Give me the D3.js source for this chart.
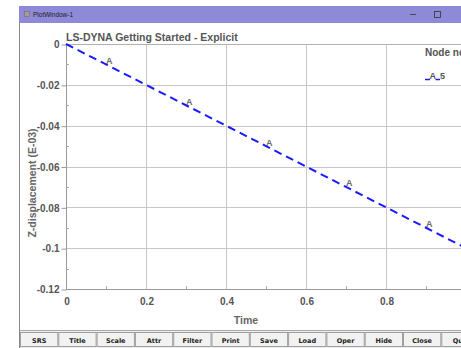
<!DOCTYPE html>
<html><head><meta charset="utf-8">
<script src="https://cdn.jsdelivr.net/npm/d3@7"></script>
<style>
html,body{margin:0;padding:0;background:#fff;overflow:hidden}
svg{display:block}
</style></head>
<body>
<script>
const time = [0, 0.1, 0.2, 0.3, 0.4, 0.5, 0.6, 0.7, 0.8, 0.9, 1.0];
const zDisp = [0, -0.01, -0.02, -0.03, -0.04, -0.05, -0.06, -0.07, -0.08, -0.09, -0.1];
const markerTimes = [0.1, 0.3, 0.5, 0.7, 0.9];
const markerValues = [-0.01, -0.03, -0.05, -0.07, -0.09];
const xTicks = [0, 0.2, 0.4, 0.6, 0.8];
const yTicks = [0, -0.02, -0.04, -0.06, -0.08, -0.1, -0.12];
const buttons = ["SRS","Title","Scale","Attr","Filter","Print","Save","Load","Oper","Hide","Close","Quit"];
const chartTitle = "LS-DYNA Getting Started - Explicit";
const windowTitle = "PlotWindow-1";
const legendTitle = "Node no.";
const legendLabel = "5";

const W = 461, H = 348;
const svg = d3.select("body").append("svg").attr("width", W).attr("height", H);
const FONT = "'Liberation Sans', Arial, sans-serif";
const fmt = d => String(+d.toFixed(2));

// window frame
svg.append("rect").attr("x", 19).attr("y", 6).attr("width", W - 19).attr("height", 17).attr("fill", "#8e8ad8");
svg.append("rect").attr("x", 24.5).attr("y", 11.5).attr("width", 5).attr("height", 5).attr("fill", "#a89c90").attr("stroke", "#6a6070").attr("stroke-width", 0.5);
svg.append("text").attr("x", 33).attr("y", 16.5).attr("font-family", FONT).attr("font-size", 6.5).attr("fill", "#222").text(windowTitle);
svg.append("line").attr("x1", 410).attr("x2", 416).attr("y1", 14.5).attr("y2", 14.5).attr("stroke", "#333").attr("stroke-width", 0.8);
svg.append("rect").attr("x", 434.5).attr("y", 11.5).attr("width", 6).attr("height", 6).attr("fill", "none").attr("stroke", "#333").attr("stroke-width", 0.8);
svg.append("line").attr("x1", 19.5).attr("x2", 19.5).attr("y1", 23).attr("y2", H).attr("stroke", "#888").attr("stroke-width", 1);

// scales
const x = d3.scaleLinear().domain([0, 1]).range([66, 466]);
const y = d3.scaleLinear().domain([0, -0.12]).range([44, 289]);

// grid
const g = svg.append("g");
g.selectAll(".vg").data(xTicks.concat([1.0]).filter(d => d > 0)).join("line")
  .attr("x1", d => Math.round(x(d)) + 0.5).attr("x2", d => Math.round(x(d)) + 0.5)
  .attr("y1", 44).attr("y2", 289).attr("stroke", "#c8c8c8").attr("stroke-width", 1);
g.selectAll(".hg").data(yTicks.filter(d => d < 0 && d > -0.12)).join("line")
  .attr("x1", 66).attr("x2", W)
  .attr("y1", d => Math.round(y(d)) + 0.5).attr("y2", d => Math.round(y(d)) + 0.5)
  .attr("stroke", "#c8c8c8").attr("stroke-width", 1);
// frame
g.append("line").attr("x1", 66).attr("x2", W).attr("y1", 44.5).attr("y2", 44.5).attr("stroke", "#b0b0b0");
g.append("line").attr("x1", 66).attr("x2", W).attr("y1", 289.5).attr("y2", 289.5).attr("stroke", "#999");
g.append("line").attr("x1", 66.5).attr("x2", 66.5).attr("y1", 44).attr("y2", 289).attr("stroke", "#999");

// axes (ticks + labels)
const yAxis = d3.axisLeft(y).tickValues(yTicks).tickSize(5).tickPadding(2).tickFormat(fmt);
const ya = svg.append("g").attr("transform", "translate(66.5,0.5)").call(yAxis);
ya.select(".domain").remove();
ya.selectAll("line").attr("stroke", "#999");
ya.selectAll("text").attr("font-family", FONT).attr("font-size", 10).attr("font-weight", "bold").attr("fill", "#555");

const xAxis = d3.axisBottom(x).tickValues(xTicks).tickSize(0).tickPadding(9).tickFormat(fmt);
const xa = svg.append("g").attr("transform", "translate(0.5,289)").call(xAxis);
xa.select(".domain").remove();
xa.selectAll("text").attr("font-family", FONT).attr("font-size", 10).attr("font-weight", "bold").attr("fill", "#555");

// minor ticks inside
const minorX = [0.1, 0.3, 0.5, 0.7, 0.9];
svg.selectAll(".mx").data(minorX).join("line")
  .attr("x1", d => Math.round(x(d)) + 0.5).attr("x2", d => Math.round(x(d)) + 0.5)
  .attr("y1", 289).attr("y2", 286).attr("stroke", "#aaa");
const minorY = [-0.01, -0.03, -0.05, -0.07, -0.09, -0.11];
svg.selectAll(".my").data(minorY).join("line")
  .attr("x1", 66).attr("x2", 69)
  .attr("y1", d => Math.round(y(d)) + 0.5).attr("y2", d => Math.round(y(d)) + 0.5).attr("stroke", "#aaa");

// titles
svg.append("text").attr("x", 66).attr("y", 41).attr("font-family", FONT).attr("font-size", 10.5).attr("font-weight", "bold").attr("fill", "#555").text(chartTitle);
svg.append("text").attr("x", 246).attr("y", 324).attr("text-anchor", "middle").attr("font-family", FONT).attr("font-size", 10.5).attr("font-weight", "bold").attr("fill", "#666").text("Time");
svg.append("text").attr("transform", "translate(36,183) rotate(-90)").attr("text-anchor", "middle").attr("font-family", FONT).attr("font-size", 10.5).attr("font-weight", "bold").attr("fill", "#666").text("Z-displacement (E-03)");

// data line
const line = d3.line().x((d, i) => x(time[i])).y(d => y(d));
svg.append("path").datum(zDisp).attr("d", line).attr("fill", "none")
  .attr("stroke", "#1a1aff").attr("stroke-width", 2).attr("stroke-dasharray", "8,5");

// markers
svg.selectAll(".mk").data(markerTimes).join("text")
  .attr("x", d => x(d)).attr("y", (d, i) => y(markerValues[i]) - 0.5)
  .attr("font-family", FONT).attr("font-size", 9).attr("font-weight", "bold").attr("fill", "#6a6a6a").text("A");

// legend
svg.append("text").attr("x", 425).attr("y", 56).attr("font-family", FONT).attr("font-size", 10).attr("font-weight", "bold").attr("fill", "#555").text(legendTitle);
svg.append("line").attr("x1", 425).attr("x2", 430).attr("y1", 79.5).attr("y2", 79.5).attr("stroke", "#1a1aff").attr("stroke-width", 1.5);
svg.append("text").attr("x", 429.5).attr("y", 79).attr("font-family", FONT).attr("font-size", 9).attr("font-weight", "bold").attr("fill", "#555").text("A");
svg.append("line").attr("x1", 435.5).attr("x2", 440).attr("y1", 79.5).attr("y2", 79.5).attr("stroke", "#1a1aff").attr("stroke-width", 1.5);
svg.append("text").attr("x", 440).attr("y", 79).attr("font-family", FONT).attr("font-size", 9).attr("font-weight", "bold").attr("fill", "#555").text(legendLabel);

// button bar
const bx = d3.scaleBand().domain(buttons).range([20, 20 + 38.3 * buttons.length]).padding(0);
const bg = svg.append("g");
bg.append("line").attr("x1", 20).attr("x2", W).attr("y1", 330.5).attr("y2", 330.5).attr("stroke", "#aaa");
bg.append("rect").attr("x", 20).attr("y", 331).attr("width", W - 20).attr("height", 17).attr("fill", "#ececec");
bg.selectAll("rect.b").data(buttons).join("rect").attr("class", "b")
  .attr("x", d => bx(d) + 0.5).attr("y", 332.5).attr("width", bx.bandwidth() - 1).attr("height", 14)
  .attr("fill", "#f2f2f2").attr("stroke", "#a0a0a0").attr("stroke-width", 1);
bg.selectAll("text.b").data(buttons).join("text").attr("class", "b")
  .attr("x", d => bx(d) + bx.bandwidth() / 2).attr("y", 342.5).attr("text-anchor", "middle")
  .attr("font-family", "'DejaVu Sans', sans-serif").attr("font-size", 6.5).attr("font-weight", "bold").attr("fill", "#222").text(d => d);
</script>
</body></html>
